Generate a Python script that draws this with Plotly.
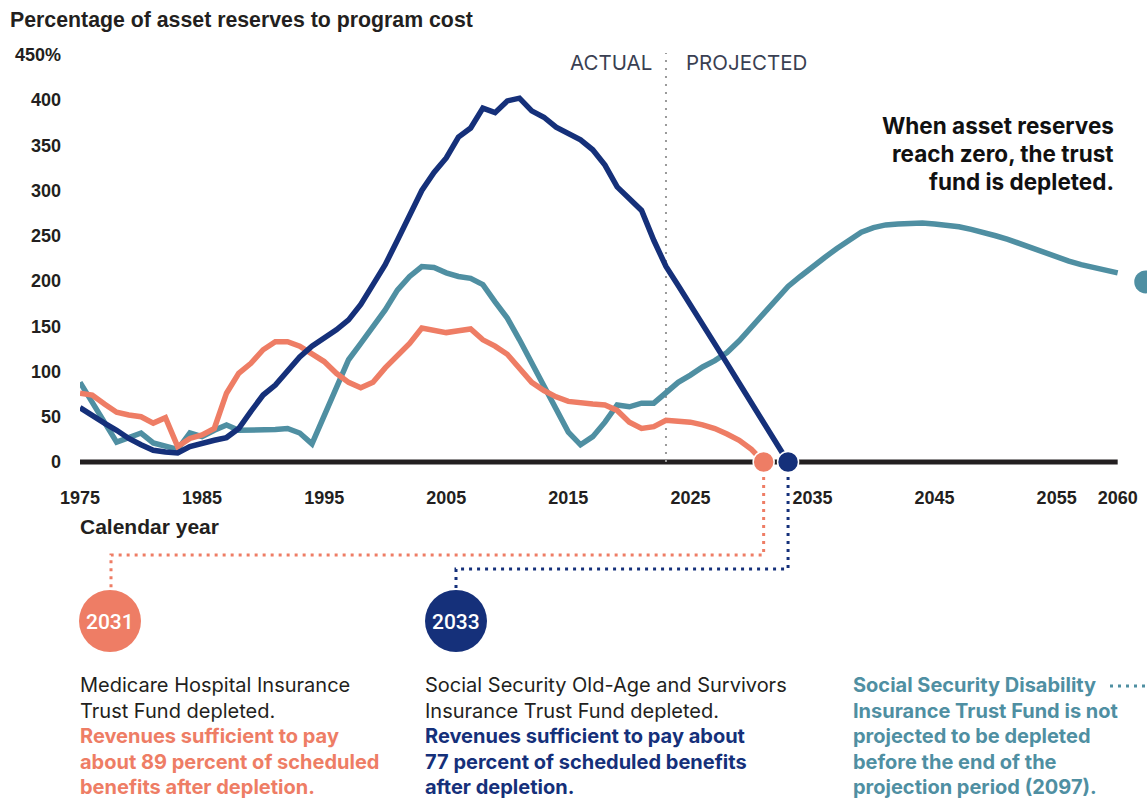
import plotly.graph_objects as go

# ---------------- DATA ----------------
years_hi = list(range(1975, 2032))
hi_values = [
    76, 74, 64, 55, 52, 50, 43, 49, 17, 26,      # 1975-1984
    30, 37, 76, 98, 109, 124, 133, 133, 128, 120,  # 1985-1994
    111, 98, 88, 82, 88, 104, 118, 131, 148, 146,  # 1995-2004
    143, 145, 147, 135, 128, 119, 104, 88, 79, 72,  # 2005-2014
    67, 65, 64, 63, 57, 44, 37, 39, 46, 45,        # 2015-2024
    44, 41, 37, 31, 24, 14, 0,                      # 2025-2031
]

years_oasi = list(range(1975, 2034))
oasi_values = [
    60, 51, 43, 35, 26, 19, 13, 11, 10, 17,        # 1975-1984
    21, 24, 27, 37, 56, 74, 85, 101, 116, 128,     # 1985-1994
    137, 146, 157, 174, 196, 218, 245, 273, 300, 320,  # 1995-2004
    336, 359, 369, 391, 386, 399, 402, 388, 381, 370,  # 2005-2014
    363, 356, 345, 328, 304, 290, 278, 245, 216, 195,  # 2015-2024
    174, 152, 131, 109, 87, 65, 44, 22, 0,          # 2025-2033
]

years_di = list(range(1975, 2061))
di_values = [
    88, 66, 44, 22, 27, 32, 21, 17, 14, 32,        # 1975-1984
    28, 35, 41, 35, 35, 36, 36, 37, 32, 20,        # 1985-1994
    51, 82, 113, 131, 149, 168, 190, 205, 216, 215,  # 1995-2004
    209, 205, 203, 196, 177, 159, 135, 109, 83, 57,  # 2005-2014
    33, 19, 28, 44, 63, 61, 65, 65, 76, 88,        # 2015-2024
    96, 105, 112, 121, 134, 149, 164, 181, 194, 205,  # 2025-2034
    216, 226, 236, 245, 254, 259, 262, 263, 264, 264,  # 2035-2044
    263, 262, 260, 257, 254, 250, 246, 241, 236, 231,  # 2045-2054
    226, 222, 218, 215, 211, 209,                   # 2055-2060
]

hi_depletion_year = 2031
oasi_depletion_year = 2033
last_actual_year = 2023
di_offchart_year = 2062.3
di_offchart_value = 199

x_tickvals = [1975, 1985, 1995, 2005, 2015, 2025, 2035, 2045, 2055, 2060]
y_tickvals = [0, 50, 100, 150, 200, 250, 300, 350, 400, 450]
y_ticktext = ["0", "50", "100", "150", "200", "250", "300", "350", "400", "450%"]

# ---------------- STYLE ----------------
C_HI = "#EE7D65"
C_OASI = "#15307A"
C_DI = "#4F8FA2"
C_TEXT = "#231F20"
W, H = 1147, 799
L, R, T, B = 80, 0, 45, 319
PW, PH = W - L - R, H - T - B
X_AXIS_RANGE = [1975, 1975 + PW / 12.208]
Y_RANGE = [-(PH - (462 - T)) / 0.905, (462 - T) / 0.905]
BASE_RANGE = [1975, 2060]


def px_x(px):
    return (px - L) / PW


def px_y(py):
    return (T + PH - py) / PH


def year_x(yr):
    return (yr - X_AXIS_RANGE[0]) / (X_AXIS_RANGE[1] - X_AXIS_RANGE[0])


fig = go.Figure()

for xs, ys, col in [(years_di, di_values, C_DI), (years_hi, hi_values, C_HI),
                    (years_oasi, oasi_values, C_OASI)]:
    fig.add_trace(go.Scatter(x=xs, y=ys, mode="lines", cliponaxis=False,
                             line=dict(color=col, width=5.5), hoverinfo="skip",
                             showlegend=False))

# depletion dots (the final values of each series)
fig.add_trace(go.Scatter(
    x=[years_hi[-1], years_oasi[-1]], y=[hi_values[-1], oasi_values[-1]],
    mode="markers", cliponaxis=False, showlegend=False, hoverinfo="skip",
    marker=dict(size=21, color=[C_HI, C_OASI], line=dict(color="white", width=1.5))))
fig.add_trace(go.Scatter(
    x=[di_offchart_year], y=[di_offchart_value], mode="markers", cliponaxis=True,
    showlegend=False, hoverinfo="skip", marker=dict(size=23, color=C_DI)))

shapes = []
# zero baseline
shapes.append(dict(type="line", xref="x", yref="y", x0=BASE_RANGE[0], x1=BASE_RANGE[1], y0=0, y1=0,
                   line=dict(color=C_TEXT, width=5), layer="below"))
# actual / projected divider
shapes.append(dict(type="line", xref="x", yref="y", x0=last_actual_year, x1=last_actual_year,
                   y0=0, y1=452, line=dict(color="#9A9A9A", width=2, dash="2px,6px"),
                   layer="below"))

# connectors from depletion dots to year bubbles
hx = year_x(hi_depletion_year)
ox = year_x(oasi_depletion_year)
shapes.append(dict(type="path", xref="paper", yref="paper",
                   path=f"M {hx},{px_y(477)} L {hx},{px_y(555)} L {px_x(111)},{px_y(555)} L {px_x(111)},{px_y(590)}",
                   line=dict(color=C_HI, width=3, dash="3px,5px")))
shapes.append(dict(type="path", xref="paper", yref="paper",
                   path=f"M {ox},{px_y(477)} L {ox},{px_y(569)} L {px_x(456)},{px_y(569)} L {px_x(456)},{px_y(590)}",
                   line=dict(color=C_OASI, width=3, dash="3px,5px")))
shapes.append(dict(type="line", xref="paper", yref="paper",
                   x0=px_x(1110), x1=px_x(1150), y0=px_y(686), y1=px_y(686),
                   line=dict(color=C_DI, width=3, dash="3px,5px")))

annotations = []
for cx, col, yr in [(110, C_HI, hi_depletion_year), (456, C_OASI, oasi_depletion_year)]:
    r = 31
    cy = 621
    shapes.append(dict(type="circle", xref="paper", yref="paper",
                       x0=px_x(cx - r), x1=px_x(cx + r), y0=px_y(cy + r), y1=px_y(cy - r),
                       fillcolor=col, line=dict(width=0)))
    annotations.append(dict(xref="paper", yref="paper", x=px_x(cx), y=px_y(cy + 1),
                            text=str(yr), showarrow=False, xanchor="center", yanchor="middle",
                            font=dict(family="Roboto", size=21, color="white", weight=500)))

# title
annotations.append(dict(xref="paper", yref="paper", x=px_x(8), y=px_y(20), xanchor="left",
                        yanchor="middle", showarrow=False,
                        text="Percentage of asset reserves to program cost",
                        font=dict(family="Liberation Sans", size=21.3, color=C_TEXT, weight="bold")))
annotations.append(dict(xref="paper", yref="paper", x=px_x(78), y=px_y(526), xanchor="left",
                        yanchor="middle", showarrow=False, text="Calendar year",
                        font=dict(family="Liberation Sans", size=21, color=C_TEXT, weight="bold")))

# actual / projected labels
annotations.append(dict(xref="x", yref="paper", x=last_actual_year, y=px_y(62), xanchor="right",
                        yanchor="middle", xshift=-12, showarrow=False, text="ACTUAL",
                        font=dict(family="Inter", size=20.5, color="#3A3F52")))
annotations.append(dict(xref="x", yref="paper", x=last_actual_year, y=px_y(62), xanchor="left",
                        yanchor="middle", xshift=18, showarrow=False, text="PROJECTED",
                        font=dict(family="Inter", size=20.5, color="#3A3F52")))

# depletion note
for i, line in enumerate(["When asset reserves", "reach zero, the trust", "fund is depleted."]):
    annotations.append(dict(xref="paper", yref="paper", x=px_x(1116), y=px_y(125 + 28 * i),
                            xanchor="right", yanchor="middle", showarrow=False, text=line,
                            font=dict(family="Inter", size=22.5, color="#111111", weight="bold")))

# bottom text blocks
blocks = [
    (80, [("Medicare Hospital Insurance", C_TEXT, "normal"),
          ("Trust Fund depleted.", C_TEXT, "normal"),
          ("Revenues sufficient to pay", C_HI, "bold"),
          ("about 89 percent of scheduled", C_HI, "bold"),
          ("benefits after depletion.", C_HI, "bold")]),
    (425, [("Social Security Old-Age and Survivors", C_TEXT, "normal"),
           ("Insurance Trust Fund depleted.", C_TEXT, "normal"),
           ("Revenues sufficient to pay about", C_OASI, "bold"),
           ("77 percent of scheduled benefits", C_OASI, "bold"),
           ("after depletion.", C_OASI, "bold")]),
    (853, [("Social Security Disability", C_DI, "bold"),
           ("Insurance Trust Fund is not", C_DI, "bold"),
           ("projected to be depleted", C_DI, "bold"),
           ("before the end of the", C_DI, "bold"),
           ("projection period (2097).", C_DI, "bold")]),
]
for bx, lines in blocks:
    for i, (txt, col, wt) in enumerate(lines):
        annotations.append(dict(xref="paper", yref="paper", x=px_x(bx - 2), y=px_y(685 + 25.5 * i),
                                xanchor="left", yanchor="middle", showarrow=False, text=txt,
                                font=dict(family="Inter", size=20, color=col, weight=wt)))

fig.update_layout(
    width=W, height=H, autosize=False,
    margin=dict(l=L, r=R, t=T, b=B),
    paper_bgcolor="white", plot_bgcolor="white",
    shapes=shapes, annotations=annotations, showlegend=False,
    xaxis=dict(range=X_AXIS_RANGE, tickvals=x_tickvals, ticktext=[str(v) for v in x_tickvals],
               showgrid=False, zeroline=False, showline=False, ticks="",
               ticklabelstandoff=5,
               tickfont=dict(family="Liberation Sans", size=18, color=C_TEXT, weight="bold")),
    yaxis=dict(range=Y_RANGE, tickvals=y_tickvals, ticktext=y_ticktext,
               showgrid=False, zeroline=False, showline=False, ticks="",
               ticklabelstandoff=18,
               tickfont=dict(family="Liberation Sans", size=18, color=C_TEXT, weight="bold")),
)

fig.write_html("out.html", config={"displayModeBar": False},
               post_script="document.body.style.margin='0px';")
